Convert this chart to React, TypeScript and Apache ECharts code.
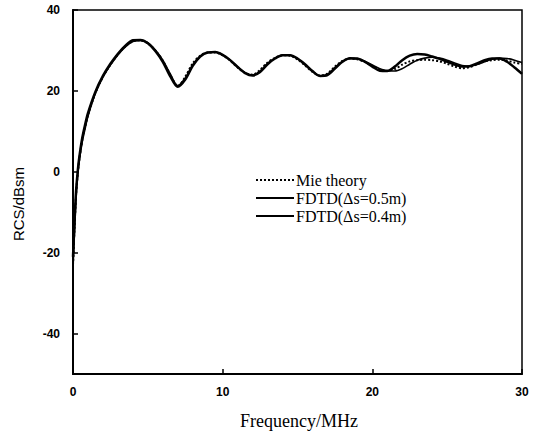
import React, { useEffect, useRef } from "react";
import * as echarts from "echarts";

const freqs = [0, 0.1, 0.2, 0.3, 0.4, 0.6, 0.8, 1, 1.5, 2, 2.5, 3, 3.5, 4, 4.5, 5, 5.5, 6, 6.5, 7, 7.5, 8, 8.5, 9, 9.5, 10, 10.5, 11, 11.5, 12, 12.5, 13, 13.5, 14, 14.5, 15, 15.5, 16, 16.5, 17, 17.5, 18, 18.5, 19, 19.5, 20, 20.5, 21, 21.5, 22, 22.5, 23, 23.5, 24, 24.5, 25, 25.5, 26, 26.5, 27, 27.5, 28, 28.5, 29, 29.5, 30];

const mie = [-23, -14, -6, -1, 2.5, 7.5, 11, 14, 19.5, 23.5, 26.5, 29, 31, 32.3, 32.5, 31.8, 30, 27.5, 24, 21.2, 23.5, 26.8, 28.7, 29.5, 29.5, 28.8, 27.5, 25.8, 24.4, 24, 25.2, 27, 28.2, 28.8, 28.7, 27.8, 26.3, 24.7, 23.8, 24.3, 26, 27.4, 28, 27.8, 27.1, 26.2, 25.3, 25, 25.4, 26.5, 27.3, 27.6, 27.7, 27.6, 27.3, 26.7, 26, 25.6, 25.9, 26.6, 27.3, 27.6, 27.7, 27.5, 27, 26.7];

const fdtd05 = [-21, -12.5, -5, -0.5, 3, 8, 11.5, 14.5, 19.8, 23.7, 26.7, 29.2, 31.2, 32.5, 32.6, 31.8, 29.9, 27.2, 23.6, 21, 22.8, 26.2, 28.5, 29.5, 29.6, 28.9, 27.6, 25.9, 24.4, 23.8, 24.7, 26.6, 28, 28.8, 28.8, 28, 26.6, 24.9, 23.7, 23.9, 25.5, 27.2, 28.1, 28, 27.2, 26, 25, 24.9, 26, 27.6, 28.7, 29.1, 29, 28.5, 27.9, 27.2, 26.5, 26, 26.1, 26.8, 27.6, 28, 28, 27.2, 25.8, 24.2];

const fdtd04 = [-24, -15, -7, -1.5, 2, 7, 10.5, 13.7, 19.4, 23.4, 26.4, 28.9, 30.9, 32.2, 32.5, 31.9, 30.1, 27.6, 24.2, 21.3, 23.2, 26.5, 28.6, 29.5, 29.6, 28.9, 27.6, 25.9, 24.5, 23.9, 24.9, 26.8, 28.1, 28.8, 28.8, 27.9, 26.4, 24.8, 23.7, 24.1, 25.8, 27.3, 28, 27.9, 27.3, 26.4, 25.5, 25, 24.9, 25.5, 26.6, 27.6, 28.1, 28.3, 28.1, 27.6, 26.9, 26.3, 26.1, 26.5, 27.2, 27.8, 28.1, 28, 27.6, 27];

const yTicks = [-40, -20, 0, 20, 40];
const seriesNames = ["Mie theory", "FDTD(\u0394s=0.5m)", "FDTD(\u0394s=0.4m)"];

const pairs = (vals: number[]) => freqs.map((f, i) => [f, vals[i]]);

export default function App() {
  const ref = useRef<HTMLDivElement>(null);
  useEffect(() => {
    document.body.style.margin = "0";
    const chart = echarts.init(ref.current!, null, { renderer: "svg" });
    const tickLabel = {
      color: "#000",
      fontFamily: "Liberation Sans, Arial, sans-serif",
      fontWeight: "bold" as const,
      fontSize: 12,
    };
    chart.setOption({
      animation: false,
      backgroundColor: "#fff",
      grid: {
        left: 73,
        right: 11,
        top: 10,
        bottom: 57,
        show: true,
        borderColor: "#000",
        borderWidth: 1.5,
        backgroundColor: "transparent",
      },
      xAxis: {
        type: "value",
        min: 0,
        max: 30,
        interval: 10,
        axisLine: { show: true, onZero: false, lineStyle: { color: "#000", width: 2 } },
        axisTick: { show: true, inside: true, length: 5, lineStyle: { color: "#000", width: 1.5 } },
        axisLabel: { ...tickLabel, margin: 12 },
        splitLine: { show: false },
      },
      yAxis: {
        type: "value",
        min: -50,
        max: 40,
        axisLine: { show: true, onZero: false, lineStyle: { color: "#000", width: 2 } },
        axisTick: {
          show: true,
          inside: true,
          length: 5,
          customValues: yTicks,
          lineStyle: { color: "#000", width: 1.5 },
        },
        axisLabel: { ...tickLabel, margin: 13, customValues: yTicks },
        splitLine: { show: false },
      },
      legend: {
        orient: "vertical",
        left: 255,
        top: 172,
        padding: 0,
        itemGap: 2,
        itemWidth: 38,
        itemHeight: 18,
        itemStyle: { opacity: 0 },
        textStyle: {
          color: "#000",
          fontFamily: "Liberation Serif, Times New Roman, serif",
          fontSize: 16,
          padding: [0, 0, 0, -3],
        },
        data: seriesNames,
      },
      graphic: [
        {
          type: "text",
          x: 18,
          y: 204,
          rotation: Math.PI / 2,
          style: {
            text: "RCS/dBsm",
            fill: "#000",
            font: "15px Liberation Sans, Arial, sans-serif",
            align: "center",
            verticalAlign: "middle",
          },
        },
        {
          type: "text",
          x: 299,
          y: 421,
          style: {
            text: "Frequency/MHz",
            fill: "#000",
            font: "18px Liberation Serif, Times New Roman, serif",
            align: "center",
            verticalAlign: "middle",
          },
        },
      ],
      series: [
        {
          name: seriesNames[0],
          type: "line",
          smooth: 0.3,
          showSymbol: false,
          symbol: "none",
          data: pairs(mie),
          lineStyle: { color: "#000", width: 2, type: [2, 2] },
          itemStyle: { color: "#000" },
          z: 3,
        },
        {
          name: seriesNames[1],
          type: "line",
          smooth: 0.3,
          showSymbol: false,
          symbol: "none",
          data: pairs(fdtd05),
          lineStyle: { color: "#000", width: 2.5 },
          itemStyle: { color: "#000" },
          z: 2,
        },
        {
          name: seriesNames[2],
          type: "line",
          smooth: 0.3,
          showSymbol: false,
          symbol: "none",
          data: pairs(fdtd04),
          lineStyle: { color: "#000", width: 1.6 },
          itemStyle: { color: "#000" },
          z: 2,
        },
      ],
    });
    return () => chart.dispose();
  }, []);
  return <div ref={ref} style={{ width: 533, height: 431 }} />;
}
